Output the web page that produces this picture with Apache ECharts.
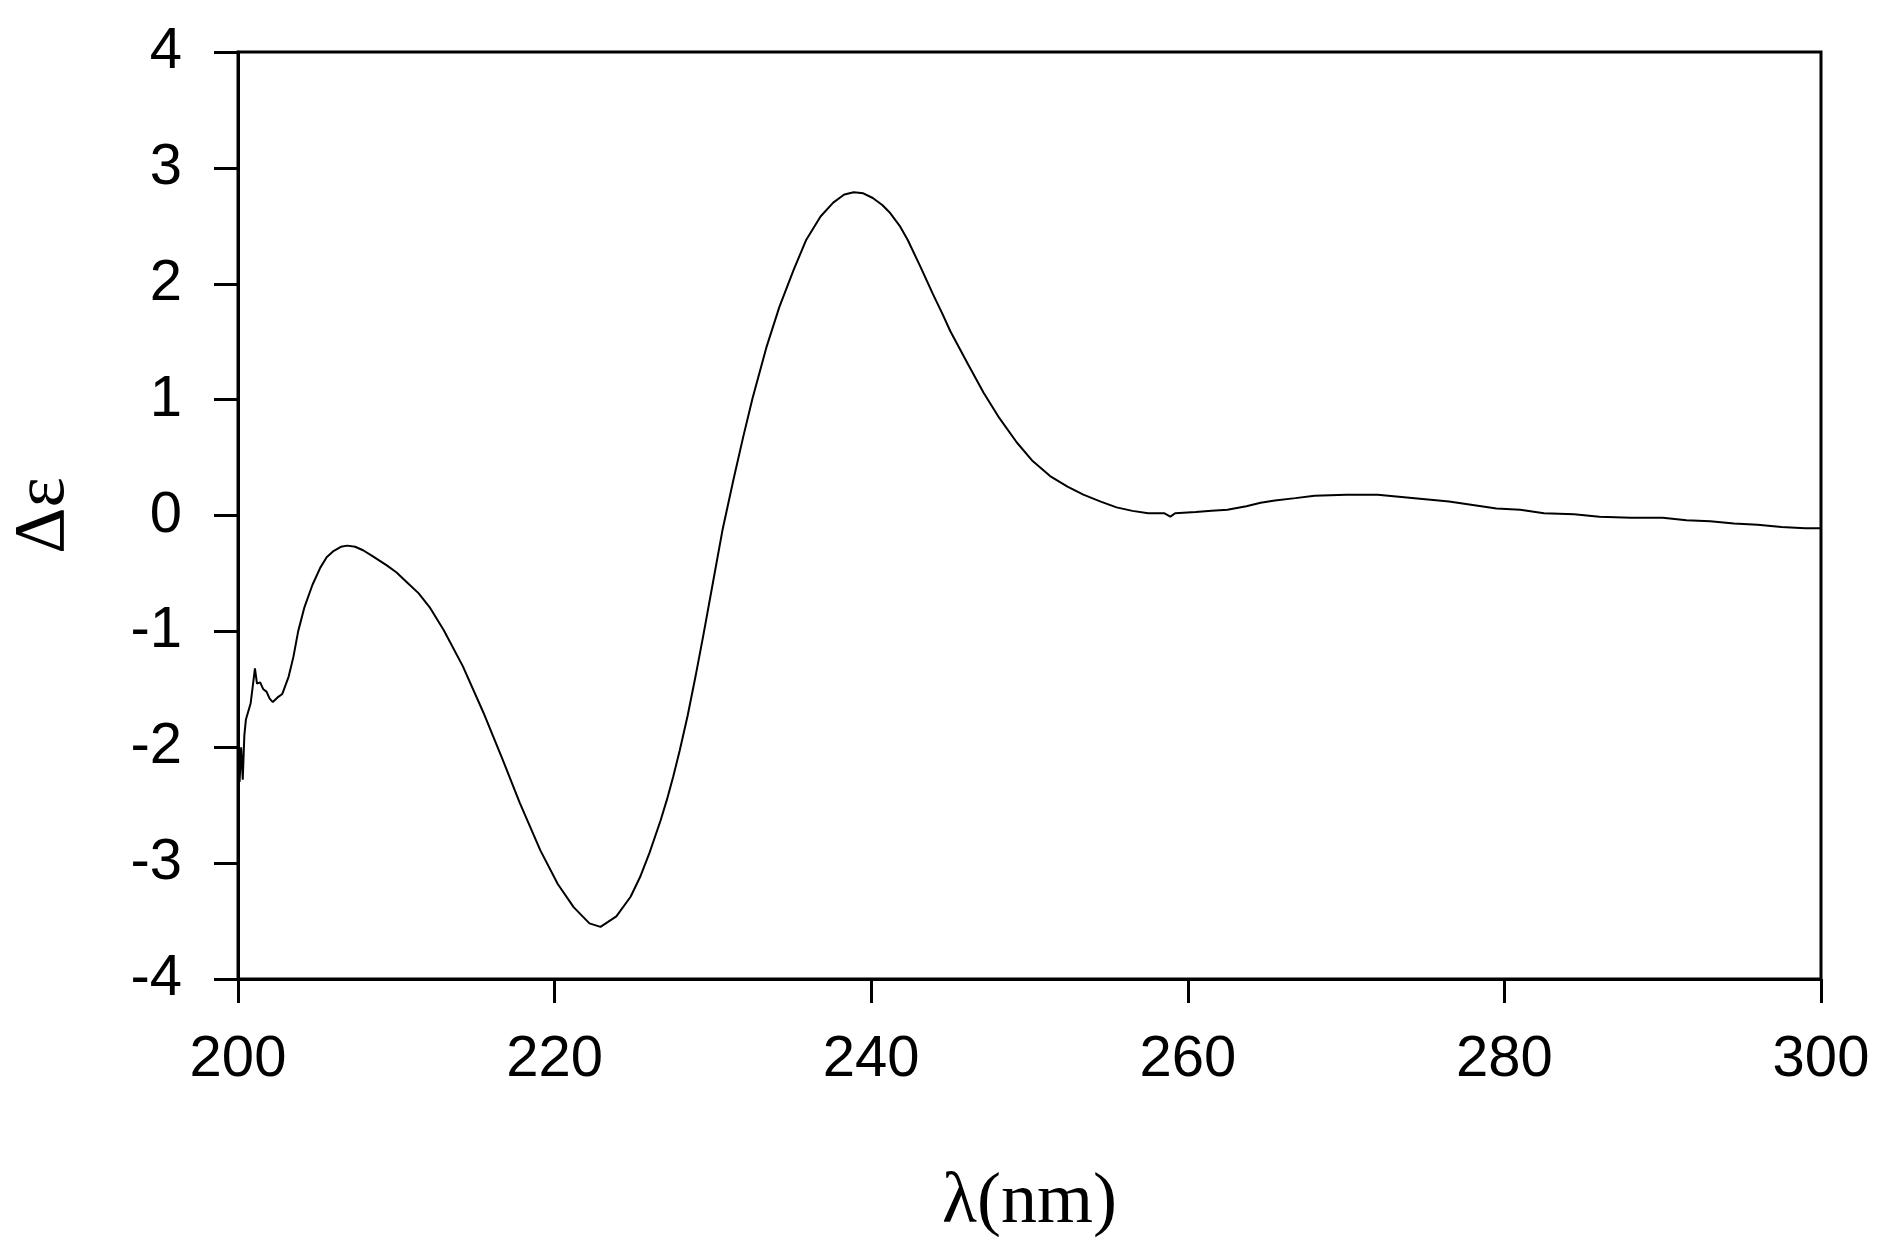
<!DOCTYPE html>
<html>
<head>
<meta charset="utf-8">
<script src="https://cdn.jsdelivr.net/npm/echarts@6/dist/echarts.min.js"></script>
<style>
html,body{margin:0;padding:0;background:#fff;}
#chart{width:1885px;height:1258px;}
</style>
</head>
<body>
<div id="chart"></div>
<script>
// Wavelength (nm)
const wavelength = [
  200.0, 200.1, 200.2, 200.3, 200.4, 200.5, 200.8, 201.0, 201.07, 201.2, 201.4, 201.6, 201.8, 202.0, 202.2, 202.5, 202.8,
  203.2, 203.5, 203.8, 204.2, 204.7, 205.2, 205.6, 206.0, 206.5, 206.9, 207.4, 207.9, 208.5, 209.4, 210.0, 210.7,
  211.4, 212.1, 213.0, 214.2, 215.5, 216.7, 217.8, 219.1, 220.2, 221.2, 222.2, 222.9, 223.9, 224.8, 225.4, 226.0,
  226.7, 227.1, 227.5, 227.9, 228.4, 228.9, 229.4, 230.0, 230.6, 231.3, 231.9, 232.5, 233.4, 234.2, 235.1, 235.9,
  236.8, 237.6, 238.3, 238.9, 239.5, 240.1, 240.7, 241.2, 241.8, 242.3, 243.1, 243.9, 244.5, 245.0, 246.1, 247.1, 248.1,
  249.2, 250.2, 251.3, 252.4, 253.4, 254.5, 255.5, 256.5, 257.5, 258.5, 258.9, 259.2, 260.5, 261.5, 262.5, 263.7,
  264.6, 265.5, 266.8, 268.0, 270.0, 272.0, 273.5, 275.0, 276.5, 278.0, 279.5, 281.0, 282.5, 284.4, 286.0, 288.0,
  290.0, 291.5, 293.0, 294.5, 296.0, 297.5, 299.0, 300.0
];
// Delta epsilon
const deltaEps = [
  -2.05, -2.30, -2.00, -2.28, -1.90, -1.76, -1.62, -1.40, -1.32, -1.45, -1.44, -1.50, -1.52, -1.58, -1.61, -1.57, -1.54,
  -1.39, -1.22, -1.00, -0.79, -0.60, -0.45, -0.36, -0.31, -0.27, -0.26, -0.27, -0.30, -0.35, -0.43, -0.49, -0.58,
  -0.67, -0.79, -0.99, -1.30, -1.70, -2.10, -2.48, -2.89, -3.18, -3.38, -3.52, -3.55, -3.46, -3.29, -3.12, -2.91,
  -2.63, -2.45, -2.25, -2.03, -1.73, -1.39, -1.03, -0.58, -0.13, 0.31, 0.67, 1.01, 1.46, 1.80, 2.12, 2.38,
  2.58, 2.70, 2.77, 2.79, 2.78, 2.74, 2.68, 2.61, 2.50, 2.38, 2.15, 1.91, 1.74, 1.59, 1.31, 1.06, 0.84,
  0.63, 0.47, 0.34, 0.25, 0.18, 0.12, 0.07, 0.04, 0.02, 0.02, -0.01, 0.02, 0.03, 0.04, 0.05, 0.08,
  0.11, 0.13, 0.15, 0.17, 0.18, 0.18, 0.16, 0.14, 0.12, 0.09, 0.06, 0.05, 0.02, 0.01, -0.01, -0.02,
  -0.02, -0.04, -0.05, -0.07, -0.08, -0.10, -0.11, -0.11
];
const xTitle = 'λ(nm)';
const yTitle = 'Δε';

const points = wavelength.map((w, i) => [w, deltaEps[i]]);

const chart = echarts.init(document.getElementById('chart'), null, {renderer: 'canvas'});
const labelFont = {color: '#000', fontFamily: '"Liberation Sans", Arial, sans-serif', fontSize: 58};
const nameFont = {color: '#000', fontFamily: '"Liberation Serif", "Times New Roman", serif', fontSize: 72};

chart.setOption({
  animation: false,
  backgroundColor: '#fff',
  grid: {left: 236, right: 64, top: 52, bottom: 279, show: true, borderColor: '#000', borderWidth: 3, backgroundColor: 'transparent'},
  xAxis: {
    type: 'value', min: 200, max: 300, interval: 20,
    name: xTitle, nameLocation: 'middle', nameGap: 188, nameTextStyle: nameFont,
    axisLine: {show: true, onZero: false, lineStyle: {color: '#000', width: 3}},
    axisTick: {show: true, inside: false, length: 24, lineStyle: {color: '#000', width: 3}},
    axisLabel: Object.assign({margin: 52}, labelFont),
    splitLine: {show: false}
  },
  yAxis: {
    type: 'value', min: -4, max: 4, interval: 1,
    name: yTitle, nameLocation: 'middle', nameGap: 158, nameRotate: 90, nameTextStyle: nameFont,
    axisLine: {show: true, onZero: false, lineStyle: {color: '#000', width: 3}},
    axisTick: {show: true, inside: false, length: 24, lineStyle: {color: '#000', width: 3}},
    axisLabel: Object.assign({margin: 56}, labelFont),
    splitLine: {show: false}
  },
  series: [{
    type: 'line',
    data: points,
    showSymbol: false,
    smooth: false,
    lineStyle: {color: '#000', width: 2},
    clip: true
  }]
});
</script>
</body>
</html>
